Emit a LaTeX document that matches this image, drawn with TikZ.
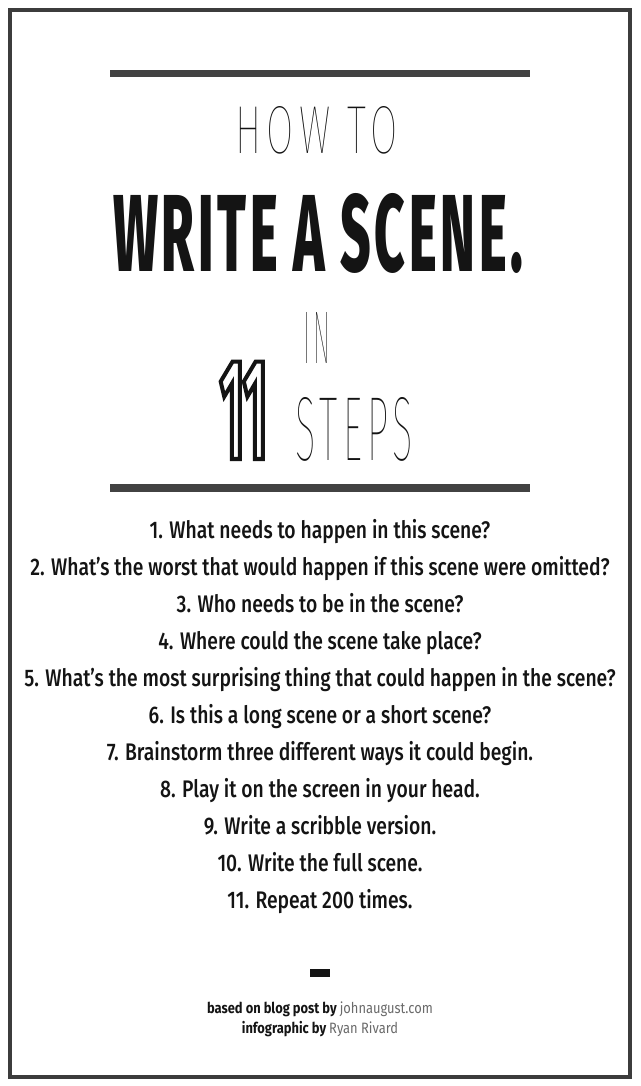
\documentclass[tikz,border=0pt]{standalone}
\usepackage{fontspec}
\usepackage{graphicx}
\IfFontExistsTF{Fira Sans Medium}{%
 \newfontfamily\listfont{Fira Sans Medium}[FakeStretch=0.805, BoldFont={Fira Sans Bold}]}{%
 \newfontfamily\listfont{Fira Sans}[FakeStretch=0.805]}
\newfontfamily\creditfont{Fira Sans}[FakeStretch=0.86]
\IfFontExistsTF{Fira Sans Thin}{\newfontfamily\thinfont{Fira Sans Thin}[LetterSpace=14]}{%
 \IfFontExistsTF{Fira Sans Light}{\newfontfamily\thinfont{Fira Sans Light}[LetterSpace=14]}{%
  \newfontfamily\thinfont{DejaVu Sans ExtraLight}[LetterSpace=14]}}
\IfFontExistsTF{Fira Sans ExtraBold}{\newfontfamily\heavyfont{Fira Sans ExtraBold}[LetterSpace=7]}{%
 \newfontfamily\heavyfont{Fira Sans Bold}[LetterSpace=7]}
\newfontfamily\digitfont{Fira Sans}[FakeStretch=0.36]
\definecolor{bargray}{HTML}{424242}
\definecolor{framegray}{HTML}{3C3C3C}
\definecolor{linkgray}{HTML}{6A6A6A}
\definecolor{ink}{HTML}{141414}
\newcommand\strokedtext[1]{\special{pdf:literal direct 1 Tr 4 w}#1\special{pdf:literal direct 0 Tr 0.4 w}}

\begin{document}
\begin{tikzpicture}[x=1pt,y=-1pt]
\tikzstyle{every node}+=[inner sep=0pt, outer sep=0pt]
\tikzstyle{bar}=[bargray, line width=7.5pt]
\tikzstyle{title}=[anchor=base west, text=ink]
\tikzstyle{stepline}=[anchor=base, text=ink, font=\listfont\fontsize{24}{26}\selectfont]
\tikzstyle{credit}=[anchor=base, text=ink, font=\creditfont\fontsize{15}{16}\selectfont]
\fill [white] (0,0) rectangle (640,1086);
\useasboundingbox (0,0) rectangle (640,1086);
\draw [framegray, line width=4pt] (10,10) rectangle (630,1077);
% heading
\draw [bar] (110,73.5) -- (530,73.5);
\node [title] (howto) at (235,154) {\resizebox{163pt}{47pt}{\thinfont HOW TO}};
\node [title] (scene) at (113,271) {\resizebox{410pt}{78pt}{\heavyfont WRITE A SCENE.}};
\node [title] (in) at (303,363) {\resizebox{27pt}{51pt}{\thinfont IN}};
\node [title] (steps) at (295,460) {\resizebox{118pt}{63pt}{\thinfont STEPS}};
\node [title] (eleven) at (220,459) {\digitfont\bfseries\fontsize{144}{144}\selectfont\strokedtext{11}};
\draw [bar] (110,488) -- (530,488);
% the steps
\node [stepline] (s1) at (320,538) {1. What needs to happen in this scene?};
\node [stepline] (s2) at (320,575) {2. What’s the worst that would happen if this scene were omitted?};
\node [stepline] (s3) at (320,612) {3. Who needs to be in the scene?};
\node [stepline] (s4) at (320,649) {4. Where could the scene take place?};
\node [stepline] (s5) at (320,686) {5. What’s the most surprising thing that could happen in the scene?};
\node [stepline] (s6) at (320,723) {6. Is this a long scene or a short scene?};
\node [stepline] (s7) at (320,760) {7. Brainstorm three different ways it could begin.};
\node [stepline] (s8) at (320,797) {8. Play it on the screen in your head.};
\node [stepline] (s9) at (320,834) {9. Write a scribble version.};
\node [stepline] (s10) at (320,871) {10. Write the full scene.};
\node [stepline] (s11) at (320,908) {11. Repeat 200 times.};
% credits
\fill [ink] (310,969) rectangle (330,977);
\node [credit] (blog) at (320,1013) {\bfseries based on blog post by \mdseries\textcolor{linkgray}{johnaugust.com}};
\node [credit] (info) at (320,1033) {\bfseries infographic by \mdseries\textcolor{linkgray}{Ryan Rivard}};
\end{tikzpicture}
\end{document}
